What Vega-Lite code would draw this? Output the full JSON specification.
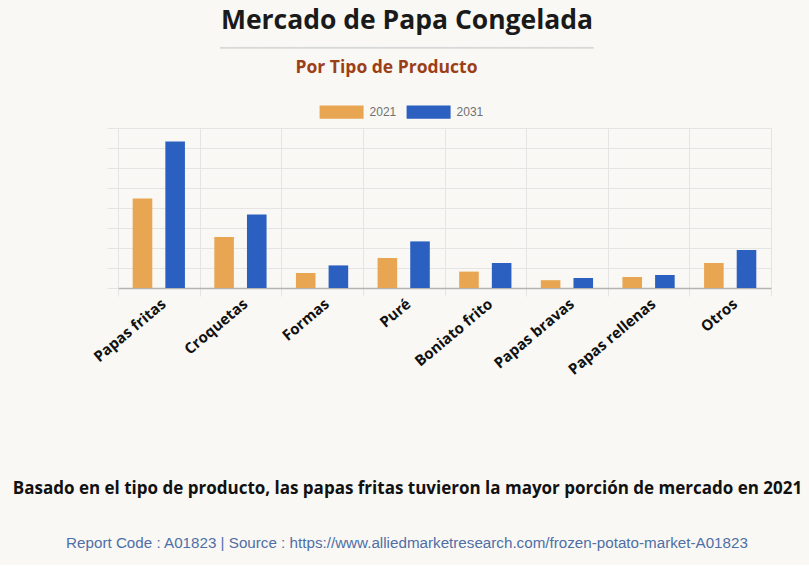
{
  "$schema": "https://vega.github.io/schema/vega-lite/v6.json",
  "background": "#f9f8f4",
  "padding": {"left": 12, "right": 12, "top": 8, "bottom": 14},
  "title": {
    "text": "Mercado de Papa Congelada",
    "subtitle": "━━━━━━━━━━━━━━━━━━━━━━━━━━━━━━━━━━━━━━━━━━━━━━━━━━━━━━━━━━━━━━",
    "font": "Open Sans",
    "fontSize": 26.5,
    "fontWeight": "bold",
    "color": "#1a1a1a",
    "subtitleFont": "DejaVu Sans",
    "subtitleFontSize": 10,
    "subtitleColor": "#d8d8d8",
    "subtitlePadding": 8,
    "anchor": "middle",
    "offset": 6
  },
  "datasets": {
    "mercado": [
      {"producto": "Papas fritas", "anio": "2021", "valor": 4.47},
      {"producto": "Papas fritas", "anio": "2031", "valor": 7.33},
      {"producto": "Croquetas", "anio": "2021", "valor": 2.55},
      {"producto": "Croquetas", "anio": "2031", "valor": 3.67},
      {"producto": "Formas", "anio": "2021", "valor": 0.75},
      {"producto": "Formas", "anio": "2031", "valor": 1.13},
      {"producto": "Puré", "anio": "2021", "valor": 1.5},
      {"producto": "Puré", "anio": "2031", "valor": 2.33},
      {"producto": "Boniato frito", "anio": "2021", "valor": 0.82},
      {"producto": "Boniato frito", "anio": "2031", "valor": 1.25},
      {"producto": "Papas bravas", "anio": "2021", "valor": 0.39},
      {"producto": "Papas bravas", "anio": "2031", "valor": 0.5},
      {"producto": "Papas rellenas", "anio": "2021", "valor": 0.55},
      {"producto": "Papas rellenas", "anio": "2031", "valor": 0.65},
      {"producto": "Otros", "anio": "2021", "valor": 1.25},
      {"producto": "Otros", "anio": "2031", "valor": 1.9}
    ]
  },
  "vconcat": [
    {
      "title": {
        "text": "Report Code : A01823 | Source : https://www.alliedmarketresearch.com/frozen-potato-market-A01823",
        "orient": "bottom",
        "font": "Liberation Sans",
        "fontSize": 15.2,
        "fontWeight": "normal",
        "color": "#4f6fa6",
        "anchor": "middle",
        "offset": 39
      },
      "vconcat": [
        {
          "width": 653,
          "height": 160,
          "data": {"name": "mercado"},
          "title": {
            "text": "Por Tipo de Producto",
            "font": "Open Sans",
            "fontSize": 17.5,
            "fontWeight": "bold",
            "color": "#9c3f18",
            "anchor": "middle",
            "dx": -58,
            "offset": 51.5
          },
          "mark": {"type": "bar"},
          "encoding": {
            "x": {
              "field": "producto",
              "type": "nominal",
              "sort": null,
              "scale": {"paddingInner": 0, "paddingOuter": 0},
              "axis": {
                "title": "Basado en el tipo de producto, las papas fritas tuvieron la mayor porción de mercado en 2021",
                "titleFont": "Open Sans",
                "titleFontSize": 17,
                "titleFontWeight": "bold",
                "titleColor": "#111111",
                "titleX": 289,
                "titleAlign": "center",
                "titlePadding": 103.5,
                "labelAngle": -40,
                "labelAlign": "right",
                "labelBaseline": "top",
                "labelFont": "Open Sans",
                "labelFontSize": 15,
                "labelFontWeight": "bold",
                "labelColor": "#111111",
                "labelPadding": 0,
                "tickBand": "extent",
                "grid": true,
                "gridColor": "#e4e4e4",
                "ticks": true,
                "tickSize": 8,
                "tickColor": "#e4e4e4",
                "domainColor": "#b3b3b3",
                "domainWidth": 1.5,
                "encode": {
                  "labels": {
                    "update": {
                      "angle": {"signal": "datum.value === 'Papas fritas' ? -32 : datum.value === 'Croquetas' ? -31 : datum.value === 'Formas' ? -40 : datum.value === 'Puré' ? -38 : datum.value === 'Boniato frito' ? -44 : datum.value === 'Papas bravas' ? -45 : datum.value === 'Papas rellenas' ? -47 : -42"}
                    }
                  }
                }
              }
            },
            "xOffset": {
              "field": "anio",
              "type": "nominal",
              "scale": {"paddingInner": 0.4, "paddingOuter": 0.45}
            },
            "y": {
              "field": "valor",
              "type": "quantitative",
              "scale": {"domain": [0, 8], "nice": false},
              "axis": {
                "title": null,
                "labels": false,
                "values": [0, 1, 2, 3, 4, 5, 6, 7, 8],
                "grid": true,
                "gridColor": "#e4e4e4",
                "ticks": true,
                "tickSize": 11,
                "tickColor": "#e4e4e4",
                "domain": false
              }
            },
            "color": {
              "field": "anio",
              "type": "nominal",
              "scale": {"range": ["#e8a552", "#2c60c0"]},
              "legend": {
                "title": null,
                "orient": "none",
                "direction": "horizontal",
                "legendX": 201.6,
                "legendY": -38,
                "padding": 0,
                "symbolType": "M-1,-0.3H1V0.3H-1Z",
                "symbolSize": 1936,
                "symbolStrokeWidth": 0,
                "symbolOpacity": 1,
                "labelFont": "Liberation Sans",
                "labelFontSize": 12,
                "labelColor": "#707070",
                "labelOffset": 6,
                "columnPadding": 10
              }
            }
          }
        }
      ]
    }
  ],
  "config": {
    "view": {"stroke": null},
    "font": "Open Sans"
  }
}
